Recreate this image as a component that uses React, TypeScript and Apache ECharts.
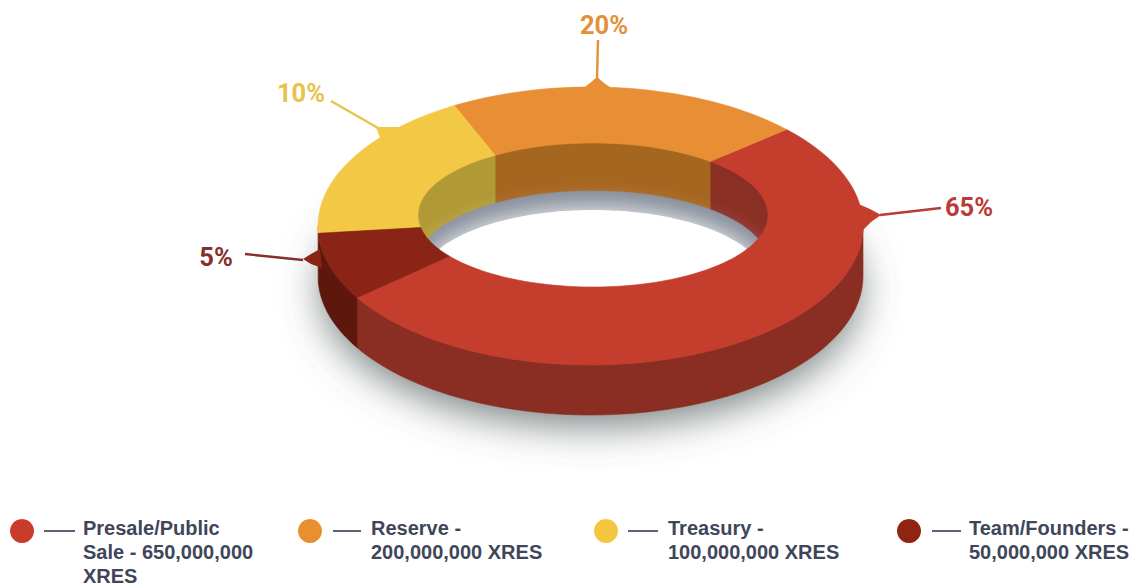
import React, { useEffect, useRef } from "react";
import * as echarts from "echarts";

// ---- data ----
const categories = ["Presale/Public\nSale - 650,000,000\nXRES", "Reserve -\n200,000,000 XRES", "Treasury -\n100,000,000 XRES", "Team/Founders -\n50,000,000 XRES"];
const percents = [65, 20, 10, 5];
// slice extents as drawn in the picture (degrees, anticlockwise from the right)
const outerStartDeg = [211, 44, 120, 183];
const outerSweepDeg = [193, 76, 63, 28];
const innerStartDeg = [215, 48, 124, 190];
const innerSweepDeg = [193, 76, 66, 25];

// ---- style ----
const faceColors = ["#c43d2d", "#e88e34", "#f3c845", "#8a2416"];
const outerWallColors = ["#8a2d22", "#a5661f", "#b19a35", "#5e170d"];
const innerWallColors = ["#8a2f24", "#a5661f", "#b19a35", "#b19a35"];
const labelColors = ["#b93a36", "#e39138", "#e9c24a", "#83302b"];
const legendColors = ["#c93c2c", "#ea8f2f", "#f4c63f", "#8f2413"];

// ---- layout ----
const OUTER = { cx: 590.5, cy: 226, rx: 272.5, ry: 139 };
const INNER = { cx: 593, cy: 215, rx: 175, ry: 72 };
const DEPTH = 50;
const HOLE_DEPTH = 48;
const labelPos = [[969, 207], [604, 25], [301, 93], [216, 257]];
const leaders = [
  [[941, 208], [880, 215]],
  [[598, 40], [597, 79]],
  [[331, 101], [378, 128]],
  [[245, 254], [303, 260]],
];
const bumps = [
  [[856, 203], [870, 209], [881, 215], [871, 222], [861, 232]],
  [[581, 90], [590, 83], [597, 77], [604, 83], [614, 90]],
  [[376, 127], [380, 138], [402, 127]],
  [[320, 249], [311, 254], [303, 259], [311, 264], [322, 268]],
];
const legendX = [22, 310, 606, 909];
const legendTextX = [83, 371, 668, 969];
const legendDash = [[44, 75], [333, 361], [628, 658], [932, 961]];

type Ell = { cx: number; cy: number; rx: number; ry: number };
function arc(e: Ell, a: number, b: number, dy = 0): number[][] {
  const n = Math.max(2, Math.ceil(Math.abs(b - a) / 2));
  const pts: number[][] = [];
  for (let i = 0; i <= n; i++) {
    const t = ((a + ((b - a) * i) / n) * Math.PI) / 180;
    pts.push([e.cx + e.rx * Math.cos(t), e.cy + dy - e.ry * Math.sin(t)]);
  }
  return pts;
}
const poly = (points: number[][], fill: string, extra: object = {}) => ({
  type: "polygon",
  shape: { points },
  style: { fill, stroke: fill, lineWidth: 0.6, ...extra },
});

const rows = categories.map((_, i) => [outerStartDeg[i], outerSweepDeg[i], innerStartDeg[i], innerSweepDeg[i], i]);

export default function App() {
  const ref = useRef<HTMLDivElement>(null);
  useEffect(() => {
    const chart = echarts.init(ref.current!, undefined, { renderer: "svg" });
    const base = { type: "custom", coordinateSystem: "none", silent: true, animation: false };
    const graphics: any[] = [];
    percents.forEach((p, i) => {
      graphics.push({
        type: "polyline", z: 20,
        shape: { points: leaders[i] },
        style: { stroke: labelColors[i], lineWidth: 2.4, fill: "none" },
      });
      graphics.push({
        type: "polygon", z: 20,
        shape: { points: bumps[i] },
        style: { fill: faceColors[i] },
      });
      graphics.push({
        type: "text", z: 21, x: labelPos[i][0], y: labelPos[i][1],
        style: {
          text: `${p}%`, fill: labelColors[i], font: "bold 25.5px Roboto, sans-serif",
          textAlign: "center", textVerticalAlign: "middle",
        },
      });
      graphics.push({
        type: "circle", z: 20,
        shape: { cx: legendX[i], cy: 531, r: 12 },
        style: { fill: legendColors[i] },
      });
      graphics.push({
        type: "line", z: 20,
        shape: { x1: legendDash[i][0], y1: 531, x2: legendDash[i][1], y2: 531 },
        style: { stroke: "#5b6274", lineWidth: 2 },
      });
      categories[i].split("\n").forEach((line, k) => {
        graphics.push({
          type: "text", z: 21, x: legendTextX[i], y: 527.5 + k * 24.2,
          style: {
            text: line, fill: "#3f4659", font: "bold 20px 'Liberation Sans', sans-serif",
            textAlign: "left", textVerticalAlign: "middle",
          },
        });
      });
    });

    chart.setOption({
      animation: false,
      backgroundColor: "#ffffff",
      graphic: graphics,
      series: [
        {
          ...base, name: "shadow", data: [[0]],
          renderItem: () =>
            poly(arc({ ...OUTER, rx: OUTER.rx - 4, ry: OUTER.ry - 4 }, 0, 360, DEPTH - 2), "rgba(110,120,120,0.9)", {
              shadowBlur: 40, shadowColor: "rgba(85,95,95,0.9)", shadowOffsetY: 16, stroke: "none",
            }),
        },
        {
          ...base, name: "inner wall", data: rows,
          renderItem: (_: any, api: any) => {
            const a = api.value(2);
            const b = a + api.value(3);
            const i = api.value(4);
            return poly([...arc(INNER, a, b), ...arc(INNER, b, a, HOLE_DEPTH)], innerWallColors[i]);
          },
        },
        {
          ...base, name: "hole shade", data: [[0]],
          renderItem: () => poly(arc(INNER, 0, 360, HOLE_DEPTH), "#858c99"),
        },
        {
          ...base, name: "hole", data: [[0]],
          renderItem: () =>
            poly(arc({ ...INNER, rx: INNER.rx - 2 }, 0, 360, HOLE_DEPTH + 19), "#ffffff", {
              shadowBlur: 26, shadowColor: "#ffffff", stroke: "none",
            }),
        },
        {
          ...base, name: "outer wall", data: rows,
          renderItem: (_: any, api: any) => {
            const a = Math.max(api.value(0), 180);
            const b = Math.min(api.value(0) + api.value(1), 360);
            if (b <= a) return null;
            const i = api.value(4);
            return poly([...arc(OUTER, a, b), ...arc(OUTER, b, a, DEPTH)], outerWallColors[i]);
          },
        },
        {
          ...base, name: "top face", data: rows,
          renderItem: (_: any, api: any) => {
            const a = api.value(0), b = a + api.value(1);
            const c = api.value(2), d = c + api.value(3);
            return poly([...arc(OUTER, a, b), ...arc(INNER, d, c)], faceColors[api.value(4)]);
          },
        },
      ],
    });
    return () => chart.dispose();
  }, []);
  return <div ref={ref} style={{ position: "fixed", left: 0, top: 0, width: 1135, height: 586 }} />;
}
